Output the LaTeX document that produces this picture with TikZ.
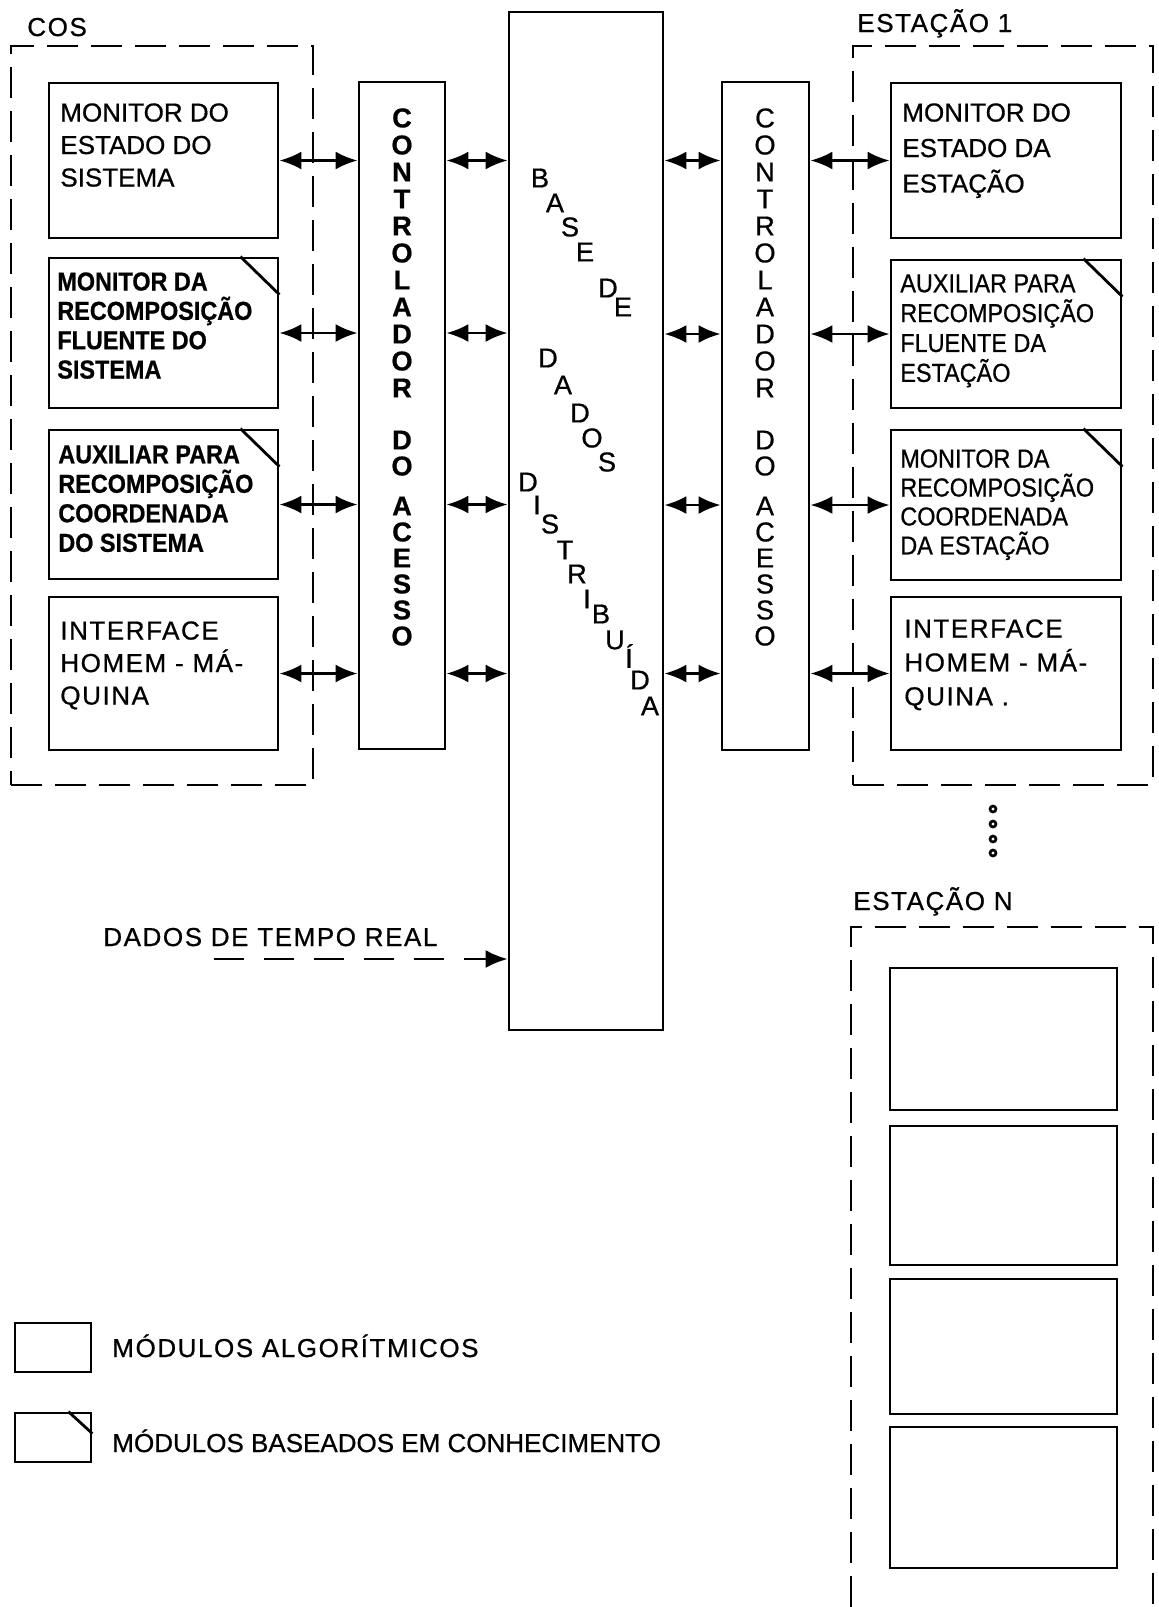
\documentclass[tikz,border=0pt]{standalone}
\usepackage{fontspec}
\setmainfont{Liberation Sans}[FakeBold=0.7]
\newfontfamily\condfont[FakeStretch=0.9,FakeBold=0.7]{Liberation Sans}
\newfontfamily\widefont[LetterSpace=6,FakeBold=0.7]{Liberation Sans}
\usetikzlibrary{arrows.meta,calc,fit}

\tikzset{
  modbox/.style={draw,line width=1.6pt,inner sep=0pt},
  grpbox/.style={draw,line width=1.3pt,dash pattern=on 0.62cm off 0.26cm,inner sep=0pt},
  modtext/.style={anchor=north west,inner sep=0pt,align=left},
  title/.style={anchor=base west,inner sep=0pt},
  vletter/.style={inner sep=0pt,font=\fontsize{15.5}{18}\selectfont},
  biarrow/.style={{Latex[length=0.44cm,width=0.36cm]}-{Latex[length=0.44cm,width=0.36cm]},line width=1.6pt},
  dasharrow/.style={-{Latex[length=0.44cm,width=0.36cm]},line width=1.4pt,dash pattern=on 0.6cm off 0.4cm},
  dotring/.style={circle,draw,line width=1.5pt,minimum size=0.12cm,inner sep=0pt}
}

\begin{document}
\begin{tikzpicture}[x=0.02cm,y=-0.02cm,font=\fontsize{14.8}{18}\selectfont]
\useasboundingbox (0,0) rectangle (1159,1607);

% groups
\node[grpbox,fit={(11,46) (313,785)}] (cos) {};
\node[grpbox,fit={(853,46) (1153,785)}] (est1) {};
\draw[grpbox] (851,1607) |- (1153,927) -- (1153,1607);
\node[title,font=\widefont\fontsize{14.8}{18}\selectfont] (coslbl) at (27,36) {COS};
\node[title,font=\widefont\fontsize{14.8}{18}\selectfont] (est1lbl) at (857,32) {ESTAÇÃO 1};
\node[title,font=\widefont\fontsize{14.8}{18}\selectfont] (estNlbl) at (853,910) {ESTAÇÃO N};

% controllers and data base
\node[modbox,fit={(359,82) (445,749)}] (cl) {};
\node[modbox,fit={(509,12) (663,1030)}] (base) {};
\node[modbox,fit={(722,82) (809,750)}] (cr) {};

% modules
\node[modbox,fit={(49,83) (278,238)}] (m1) {};
\node[modbox,fit={(49,258) (278,408)}] (m2) {};
\node[modbox,fit={(49,430) (278,579)}] (m3) {};
\node[modbox,fit={(49,597) (278,750)}] (m4) {};
\node[modbox,fit={(891,83) (1121,238)}] (r1) {};
\node[modbox,fit={(891,260) (1121,408)}] (r2) {};
\node[modbox,fit={(891,430) (1121,580)}] (r3) {};
\node[modbox,fit={(891,597) (1121,750)}] (r4) {};
\foreach \ya/\yb [count=\i] in {968/1110,1126/1265,1279/1414,1427/1568}
  \node[modbox,fit={(890,\ya) (1117,\yb)}] (n\i) {};
\foreach \n in {m2,m3,r2,r3}
  \draw[line width=1.6pt] ($(\n.north east)+(-39,0)$) -- ($(\n.north east)+(0,38)$);

\node[modtext,font=\fontsize{14.8}{18.5}\selectfont] (m1txt) at (60,103) {MONITOR DO\\ESTADO DO\\SISTEMA};
\node[modtext,font=\condfont\bfseries\fontsize{14.8}{16.7}\selectfont] (m2txt) at (57,272) {MONITOR DA\\RECOMPOSIÇÃO\\FLUENTE DO\\SISTEMA};
\node[modtext,font=\condfont\bfseries\fontsize{14.8}{16.8}\selectfont] (m3txt) at (58,445) {AUXILIAR PARA\\RECOMPOSIÇÃO\\COORDENADA\\DO SISTEMA};
\node[modtext,font=\widefont\fontsize{14.8}{18.5}\selectfont] (m4txt) at (60,621) {INTERFACE\\HOMEM - MÁ-\\QUINA};
\node[modtext,font=\fontsize{14.8}{20.2}\selectfont] (r1txt) at (902,103) {MONITOR DO\\ESTADO DA\\ESTAÇÃO};
\node[modtext,font=\condfont\fontsize{14.8}{17}\selectfont] (r2txt) at (900,274) {AUXILIAR PARA\\RECOMPOSIÇÃO\\FLUENTE DA\\ESTAÇÃO};
\node[modtext,font=\condfont\fontsize{14.8}{16.5}\selectfont] (r3txt) at (900,449) {MONITOR DA\\RECOMPOSIÇÃO\\COORDENADA\\DA ESTAÇÃO};
\node[modtext,font=\widefont\fontsize{14.8}{19.3}\selectfont] (r4txt) at (904,619) {INTERFACE\\HOMEM - MÁ-\\QUINA .};

% vertical labels
\foreach \ch/\yy [count=\i] in {C/118,O/145,N/172,T/199,R/226,O/253,L/280,A/307,D/334,O/361,R/388,D/440,O/466,A/506,C/532,E/558,S/584,S/610,O/636} {
  \node[vletter,font=\bfseries\fontsize{15.5}{18}\selectfont] (cla\i) at (402,\yy) {\ch};
  \node[vletter] (cra\i) at (765,\yy) {\ch};
}
\foreach \ch/\xx/\yy [count=\i] in {B/540/178,A/555/203,S/570/227,E/585/252,D/608/288,E/623/307,D/548/358,A/563/385,D/580/413,O/592/438,S/607/462,D/528/482,I/537/505,S/550/524,T/565/550,R/577/574,I/587/599,B/601/614,U/615/640,Í/629/656,D/640/680,A/650/706}
  \node[vletter] (bd\i) at (\xx,\yy) {\ch};

% connectors
\foreach \n in {m1,m2,m3,m4} {
  \draw[biarrow] (\n.east) -- (\n.east -| cl.west);
  \draw[biarrow] (\n.east -| cl.east) -- (\n.east -| base.west);
}
\foreach \n in {r1,r2,r3,r4} {
  \draw[biarrow] (\n.west -| base.east) -- (\n.west -| cr.west);
  \draw[biarrow] (\n.west -| cr.east) -- (\n.west);
}

\foreach \yy [count=\i] in {809,824,839,853}
  \node[dotring] (dot\i) at (993,\yy) {};

\node[title,font=\widefont\fontsize{14.8}{18}\selectfont] (rtlbl) at (103,946) {DADOS DE TEMPO REAL};
\coordinate (rtin) at (214,959);
\draw[dasharrow] (rtin) -- (rtin -| base.west);

% legend
\node[modbox,fit={(15,1323) (91,1372)}] (lg1) {};
\node[modbox,fit={(15,1413) (91,1462)}] (lg2) {};
\draw[line width=1.6pt] ($(lg2.north east)+(-24,0)$) -- ($(lg2.north east)+(0,22)$);
\node[title,font=\widefont\fontsize{14.8}{18}\selectfont] (lg1txt) at (112,1357) {MÓDULOS ALGORÍTMICOS};
\node[title] (lg2txt) at (112,1452) {MÓDULOS BASEADOS EM CONHECIMENTO};
\end{tikzpicture}
\end{document}
